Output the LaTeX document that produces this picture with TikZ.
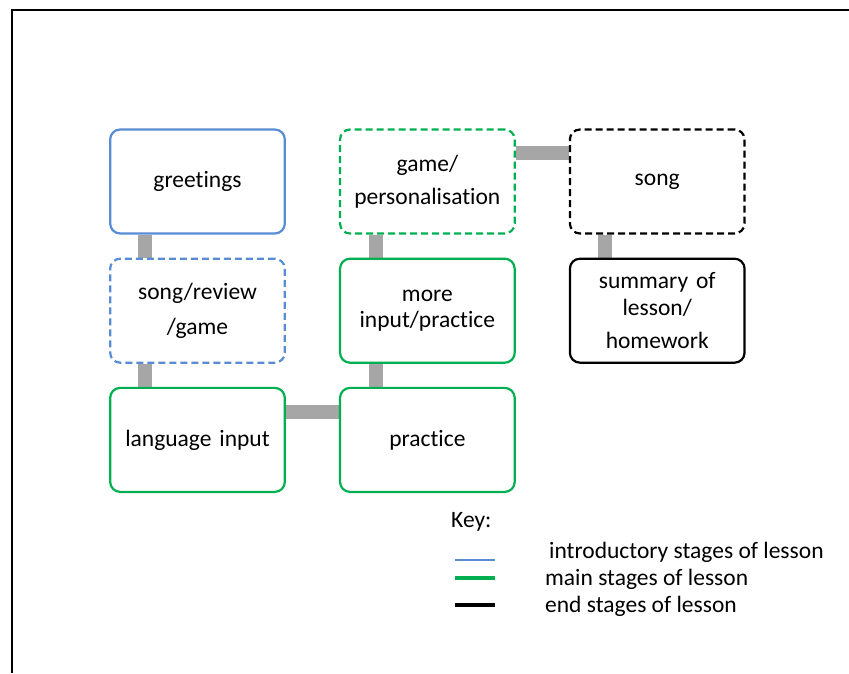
\documentclass[tikz,border=0pt]{standalone}
\usepackage{fontspec}
\setmainfont[Ligatures=NoCommon]{Carlito}
\usetikzlibrary{positioning,backgrounds}
\definecolor{introblue}{RGB}{88,141,214}
\definecolor{maingreen}{RGB}{0,176,80}
\definecolor{linkgray}{RGB}{166,166,166}
\begin{document}
\begin{tikzpicture}[
	x=1pt, y=1pt,
	node distance=23pt and 53pt,
	stage/.style={rectangle, rounded corners=10pt, line width=2.2pt, fill=white, minimum width=170pt, minimum height=104pt, text width=168pt, align=center, font=\fontsize{23.5}{28}\selectfont},
	intro/.style={stage, draw=introblue},
	main/.style={stage, draw=maingreen},
	endst/.style={stage, draw=black},
	optional/.style={dash pattern=on 7pt off 4pt},
	link/.style={line width=14pt, draw=linkgray},
	keytext/.style={anchor=west, font=\fontsize{23.5}{26}\selectfont, inner sep=0pt}
]
\useasboundingbox (0,0) rectangle (849,673);
% frame
\draw[line width=2pt] (12,0) -- (12,663) -- (849,663);
% stages
\node (greet) [intro] at (197.5,491.5) {greetings};
\node (songrev) [intro, optional, below=of greet, font=\fontsize{23.5}{35}\selectfont] {song/review\\/game};
\node (lang) [main, below=of songrev] {language input};
\node (practice) [main, right=of lang] {practice};
\node (more) [main, above=of practice, font=\fontsize{23.5}{26}\selectfont] {more\\input/practice};
\node (gamepers) [main, optional, above=of more, font=\fontsize{23.5}{33}\selectfont] {game/\\personalisation};
\node (song) [endst, optional, right=of gamepers] {song};
\node (summary) [endst, below=of song, font=\fontsize{23.5}{27}\selectfont] {summary of\\lesson/\\[6pt]homework};
% links
\begin{scope}[on background layer]
\draw [link] ([xshift=36pt]greet.south west) -- ([xshift=36pt]songrev.north west);
\draw [link] ([xshift=36pt]songrev.south west) -- ([xshift=36pt]lang.north west);
\draw [link] ([yshift=-25pt]lang.north east) -- ([yshift=-25pt]practice.north west);
\draw [link] ([xshift=37pt]practice.north west) -- ([xshift=37pt]more.south west);
\draw [link] ([xshift=37pt]more.north west) -- ([xshift=37pt]gamepers.south west);
\draw [link] ([yshift=-25pt]gamepers.north east) -- ([yshift=-25pt]song.north west);
\draw [link] ([xshift=36pt]song.south west) -- ([xshift=36pt]summary.north west);
\end{scope}
% key
\node (key) [keytext] at (451,151) {Key:};
\coordinate (kb) at (455,113);
\coordinate (kg) at (455,95);
\coordinate (kk) at (455,68);
\draw [introblue, line width=2pt] (kb) -- ++(40,0);
\draw [maingreen, line width=3.5pt] (kg) -- ++(40,0);
\draw [black, line width=3.5pt] (kk) -- ++(40,0);
\node [keytext] at (549,121) {introductory stages of lesson};
\node [keytext] at (545,94) {main stages of lesson};
\node [keytext] at (545,67) {end stages of lesson};
\end{tikzpicture}
\end{document}
